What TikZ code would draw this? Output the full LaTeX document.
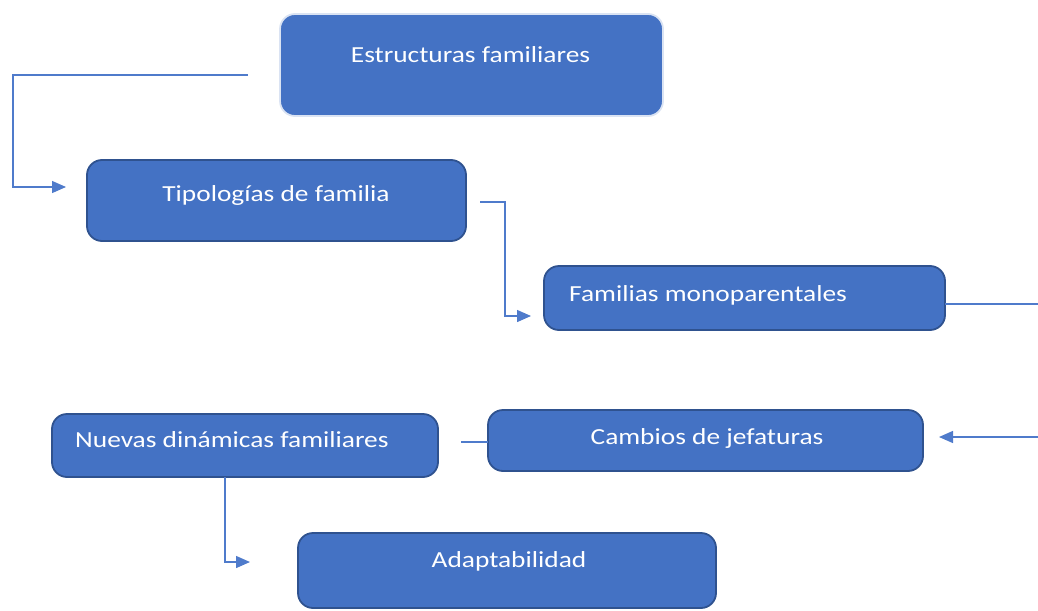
\documentclass[tikz,border=0pt]{standalone}
\usepackage{fontspec}
\setmainfont{Carlito}[FakeStretch=1.19]
\usetikzlibrary{arrows.meta}
\definecolor{boxfill}{HTML}{4472C4}
\definecolor{boxedge}{HTML}{2F528F}
\definecolor{lightedge}{HTML}{DAE3F3}
\definecolor{linecol}{HTML}{4F7BCB}
\begin{document}
\begin{tikzpicture}[x=1pt,y=-1pt,
  box/.style={fill=boxfill,draw=boxedge,line width=1.8pt,rounded corners=15pt,inner sep=0pt,outer sep=0pt},
  lbl/.style={text=white,font=\fontsize{23}{26}\selectfont,inner sep=0pt},
  conn/.style={draw=linecol,line width=1.4pt},
  arr/.style={conn,-{Triangle[length=14pt,width=12pt]}}]
\useasboundingbox (0,0) rectangle (1038,610);
% boxes
\node[box,draw=lightedge,minimum width=383pt,minimum height=102pt] (b1) at (471.5,65) {};
\node[box,minimum width=379pt,minimum height=81pt] (b2) at (276.5,200.5) {};
\node[box,minimum width=401pt,minimum height=64pt] (b3) at (744.5,298) {};
\node[box,minimum width=386pt,minimum height=63pt] (b4) at (245,445.5) {};
\node[box,minimum width=435pt,minimum height=61pt] (b5) at (705.5,440.5) {};
\node[box,minimum width=418pt,minimum height=75pt] (b6) at (507,570.5) {};
% texts
\node[lbl,anchor=base] (t1) at (470.5,63) {Estructuras familiares};
\node[lbl,anchor=base] (t2) at (276,201) {Tipologías de familia};
\node[lbl,anchor=base west] (t3) at (569,301) {Familias monoparentales};
\node[lbl,anchor=base west] (t4) at (75,447) {Nuevas dinámicas familiares};
\node[lbl,anchor=base] (t5) at (707,444) {Cambios de jefaturas};
\node[lbl,anchor=base] (t6) at (509,567) {Adaptabilidad};
% connector end points
\coordinate (c1s) at (248,75);
\coordinate (c1e) at (66,187);
\coordinate (c2s) at (480,202);
\coordinate (c2e) at (531,316);
\coordinate (c3e) at (1038,304);
\coordinate (c4s) at (1038,437);
\coordinate (c4e) at (939,437);
\coordinate (c5s) at (461,442);
\coordinate (c6e) at (250,562);
% connectors
\draw[arr] (c1s) -| (13,187) -- (c1e);
\draw[arr] (c2s) -| (505,316) -- (c2e);
\draw[conn] (b3.east |- c3e) -- (c3e);
\draw[arr] (c4s) -- (c4e);
\draw[conn] (c5s) -- (b5.west |- c5s);
\draw[arr] (b4.south -| 225,0) |- (c6e);
\end{tikzpicture}
\end{document}
